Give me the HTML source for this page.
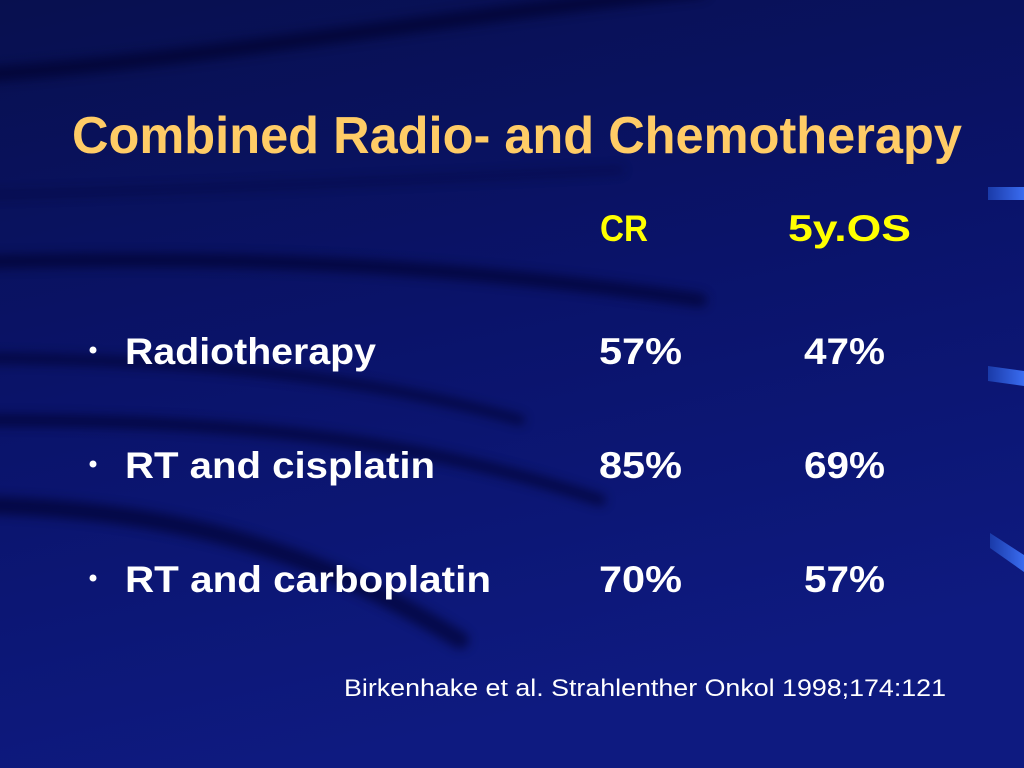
<!DOCTYPE html>
<html><head><meta charset="utf-8"><style>
html,body{margin:0;padding:0;width:1024px;height:768px;overflow:hidden;background:#0b1470}
svg{display:block}
</style></head><body>
<svg width="1024" height="768" viewBox="0 0 1024 768">
<defs>
<linearGradient id="bg" x1="0" y1="0" x2="0.3" y2="1">
<stop offset="0" stop-color="#08104f"/><stop offset="0.5" stop-color="#0a136a"/><stop offset="1" stop-color="#0e1a80"/>
</linearGradient>
<filter id="bl"><feGaussianBlur stdDeviation="5"/></filter>
<linearGradient id="tab" x1="0" x2="1"><stop offset="0" stop-color="#1a3aa8"/><stop offset="1" stop-color="#3a6cf0"/></linearGradient>
</defs>
<rect width="1024" height="768" fill="url(#bg)"/>
<g fill="none" stroke="#03062a" stroke-linecap="round" filter="url(#bl)" opacity="0.6">
<path d="M-20 75 C200 60 420 20 700 -10" stroke-width="16"/>
<path d="M-20 262 C250 255 450 265 700 300" stroke-width="14"/>
<path d="M-20 358 C200 360 360 375 520 420" stroke-width="10"/>
<path d="M-20 420 C250 420 420 440 600 500" stroke-width="12"/>
<path d="M-20 505 C200 510 330 560 460 640" stroke-width="18"/>
<path d="M-20 195 C200 190 400 180 620 170" stroke-width="8" opacity="0.5"/>
</g>
<g>
<path d="M988 187 L1024 187 L1024 200 L988 200 Z" fill="url(#tab)"/>
<path d="M988 366 L1024 371 L1024 386 L988 381 Z" fill="url(#tab)"/>
<path d="M990 533 L1024 555 L1024 572 L990 548 Z" fill="url(#tab)"/>
</g>
<text x="72" y="153" fill="#ffcc66" font-family="Liberation Sans, sans-serif" font-weight="bold" font-size="52" textLength="890" lengthAdjust="spacingAndGlyphs">Combined Radio- and Chemotherapy</text>
<g font-family="Liberation Sans, sans-serif" font-weight="bold" font-size="37" fill="#ffff00">
<text x="600" y="241" textLength="48" lengthAdjust="spacingAndGlyphs">CR</text>
<text x="788" y="241" textLength="123" lengthAdjust="spacingAndGlyphs">5y.OS</text>
</g>
<g font-family="Liberation Sans, sans-serif" font-weight="bold" font-size="37" fill="#ffffff">
<g>
<circle cx="93" cy="350" r="3.5" fill="#fff"/>
<text x="125" y="364" textLength="251" lengthAdjust="spacingAndGlyphs">Radiotherapy</text>
<text x="599" y="364" textLength="83" lengthAdjust="spacingAndGlyphs">57%</text>
<text x="804" y="364" textLength="81" lengthAdjust="spacingAndGlyphs">47%</text>
</g>
<g>
<circle cx="93" cy="464" r="3.5" fill="#fff"/>
<text x="125" y="478" textLength="310" lengthAdjust="spacingAndGlyphs">RT and cisplatin</text>
<text x="599" y="478" textLength="83" lengthAdjust="spacingAndGlyphs">85%</text>
<text x="804" y="478" textLength="81" lengthAdjust="spacingAndGlyphs">69%</text>
</g>
<g>
<circle cx="93" cy="578" r="3.5" fill="#fff"/>
<text x="125" y="592" textLength="366" lengthAdjust="spacingAndGlyphs">RT and carboplatin</text>
<text x="599" y="592" textLength="83" lengthAdjust="spacingAndGlyphs">70%</text>
<text x="804" y="592" textLength="81" lengthAdjust="spacingAndGlyphs">57%</text>
</g>
</g>
<text x="344" y="696" fill="#ffffff" font-family="Liberation Sans, sans-serif" font-size="24" textLength="602" lengthAdjust="spacingAndGlyphs">Birkenhake et al. Strahlenther Onkol 1998;174:121</text>
</svg>
</body></html>
